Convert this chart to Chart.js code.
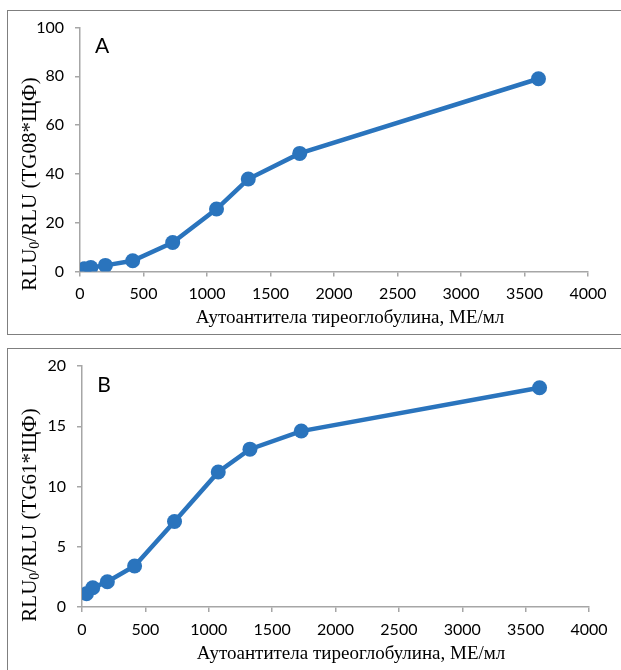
<!DOCTYPE html>
<html>
<head>
<meta charset="utf-8">
<script src="https://cdn.jsdelivr.net/npm/chart.js@4.4.0/dist/chart.umd.min.js"></script>
<style>
    html, body { margin: 0; padding: 0; background: #fff; }
    body { width: 621px; height: 670px; overflow: hidden; position: relative; }
    .frame { position: absolute; border: 1.5px solid #7f7f7f; box-sizing: border-box; }
    canvas { position: absolute; left: 0; }
</style>
</head>
<body>
<div class="frame" style="left:7px; top:10px; width:700px; height:325px;"></div>
<div class="frame" style="left:7px; top:348px; width:700px; height:400px;"></div>
<canvas id="chartA" width="621" height="340" style="top:0"></canvas>
<canvas id="chartB" width="621" height="330" style="top:340px"></canvas>
<script>
// ---- data ----
const doses = [35, 85, 200, 415, 730, 1075, 1325, 1730, 3610];   // МЕ/мл
const ratioTG08 = [1.1, 1.6, 2.5, 4.4, 11.9, 25.6, 37.9, 48.4, 79.0];
const ratioTG61 = [1.1, 1.6, 2.1, 3.4, 7.1, 11.2, 13.1, 14.6, 18.2];

const xTicks = [0, 500, 1000, 1500, 2000, 2500, 3000, 3500, 4000];
const xTitle = 'Аутоантитела тиреоглобулина, МЕ/мл';

const BLUE = '#2a74bd';
const AXIS = '#a6a6a6';
const TICK_FONT = { family: 'Lato, "Open Sans", sans-serif', size: 16 };
const SERIF = '"Liberation Serif", "DejaVu Serif", serif';

// draws the panel letter and both axis titles (y title has a subscript 0)
const labelsPlugin = {
    id: 'panelLabels',
    afterDraw(chart, args, opts) {
        const ctx = chart.ctx;
        const area = chart.chartArea;
        ctx.save();
        ctx.fillStyle = '#000';

        // panel letter
        ctx.font = '21px Lato, "Open Sans", sans-serif';
        ctx.textAlign = 'center';
        ctx.textBaseline = 'middle';
        ctx.fillText(opts.letter, area.left + 22, area.top + 19);

        // x title
        ctx.font = '19px ' + SERIF;
        ctx.fillText(xTitle, opts.xTitleX, area.bottom + 47);

        // y title, rotated, built from pieces
        const parts = [
            { t: 'RLU', sub: false },
            { t: '0', sub: true },
            { t: '/RLU (' + opts.tag + '*ЩФ)', sub: false }
        ];
        const big = '21px ' + SERIF, small = '14px ' + SERIF;
        let total = 0;
        for (const p of parts) {
            ctx.font = p.sub ? small : big;
            total += ctx.measureText(p.t).width;
        }
        ctx.translate(30, opts.yTitleY);
        ctx.rotate(-Math.PI / 2);
        ctx.textAlign = 'left';
        let x = -total / 2;
        for (const p of parts) {
            ctx.font = p.sub ? small : big;
            ctx.fillText(p.t, x, p.sub ? 5 : 0);
            x += ctx.measureText(p.t).width;
        }
        ctx.restore();
    }
};

function makeChart(canvasId, values, yMax, yStep, opts) {
    const ctx = document.getElementById(canvasId).getContext('2d');
    return new Chart(ctx, {
        type: 'line',
        data: {
            datasets: [{
                data: doses.map((d, i) => ({ x: d, y: values[i] })),
                borderColor: BLUE,
                backgroundColor: BLUE,
                borderWidth: 4.5,
                pointRadius: 7.5,
                pointBorderWidth: 0,
                pointBackgroundColor: BLUE,
                tension: 0
            }]
        },
        options: {
            responsive: false,
            animation: false,
            devicePixelRatio: 1,
            layout: { padding: { top: opts.top, right: opts.right, left: 0, bottom: 0 } },
            plugins: {
                legend: { display: false },
                tooltip: { enabled: false },
                panelLabels: opts
            },
            scales: {
                x: {
                    type: 'linear',
                    min: 0, max: 4000,
                    afterBuildTicks: (s) => { s.ticks = xTicks.map(v => ({ value: v })); },
                    grid: { drawOnChartArea: false, color: AXIS, tickLength: 5, lineWidth: 1.5 },
                    border: { color: AXIS, width: 1.5 },
                    ticks: { color: '#000', font: TICK_FONT, padding: 8, maxRotation: 0,
                             callback: (v) => String(v) },
                    afterFit: (s) => { s.height = opts.xHeight; }
                },
                y: {
                    min: 0, max: yMax,
                    ticks: { stepSize: yStep, color: '#000', font: TICK_FONT, padding: 11,
                             callback: (v) => String(v) },
                    grid: { drawOnChartArea: false, color: AXIS, tickLength: 5, lineWidth: 1.5 },
                    border: { color: AXIS, width: 1.5 },
                    afterFit: (s) => { s.width = opts.yWidth; }
                }
            }
        },
        plugins: [labelsPlugin]
    });
}

makeChart('chartA', ratioTG08, 100, 20, {
    letter: 'A', tag: 'TG08', top: 27.5, right: 33, yWidth: 80, xHeight: 68.5,
    xTitleX: 350, yTitleY: 184
});
makeChart('chartB', ratioTG61, 20, 5, {
    letter: 'B', tag: 'TG61', top: 26, right: 32, yWidth: 82, xHeight: 63,
    xTitleX: 351, yTitleY: 175
});
</script>
</body>
</html>
